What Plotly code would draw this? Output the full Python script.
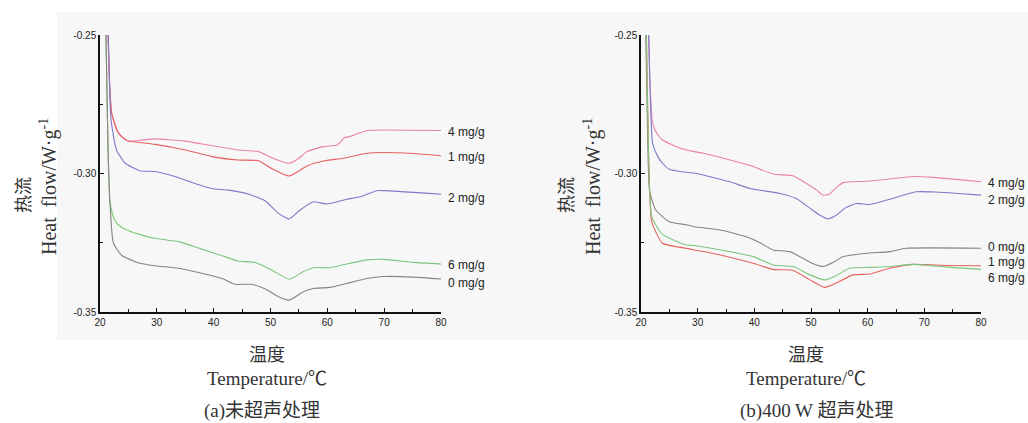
import plotly.graph_objects as go

# ---------------- data: panel (a) untreated ----------------
t_a_4 = [21.35, 21.7, 22.05, 23.0, 23.8, 25, 27, 29.7, 35, 39.7, 44.3, 47.9, 50.2, 53.3, 55, 56.4, 59.3, 61.7, 62.4, 62.9, 64, 65.5, 67, 70, 75, 80]
v_a_4 = [-0.245, -0.268, -0.2782, -0.2845, -0.2867, -0.2883, -0.2880, -0.2875, -0.2883, -0.2900, -0.2915, -0.2921, -0.2943, -0.2963, -0.2945, -0.2921, -0.2903, -0.2897, -0.2885, -0.2872, -0.2866, -0.2855, -0.2845, -0.2843, -0.2844, -0.2845]

t_a_1 = [21.35, 21.7, 22.05, 23.0, 23.8, 25, 27, 29.7, 35, 39.7, 44.3, 47.9, 50.2, 53.3, 56.4, 59.3, 62.8, 67, 70, 75, 80]
v_a_1 = [-0.245, -0.268, -0.2782, -0.2845, -0.2867, -0.2883, -0.2888, -0.2895, -0.2915, -0.2939, -0.2951, -0.2954, -0.2982, -0.3009, -0.2973, -0.2955, -0.2945, -0.2927, -0.2924, -0.2928, -0.2936]

t_a_2 = [21.4, 21.7, 21.94, 22.9, 24.4, 27, 29.7, 33.2, 36.7, 39.7, 42.6, 46.2, 49.1, 51.4, 53.3, 55.2, 57.5, 59.9, 63.4, 65.8, 68.7, 70, 80]
v_a_2 = [-0.245, -0.270, -0.2807, -0.2915, -0.2962, -0.2990, -0.2993, -0.3011, -0.3036, -0.3054, -0.3060, -0.3075, -0.3099, -0.3144, -0.3164, -0.3132, -0.3102, -0.3110, -0.3093, -0.3084, -0.3062, -0.3062, -0.3075]

t_a_6 = [21.0, 21.4, 21.76, 22.5, 23.2, 24.7, 26.7, 29.7, 33.8, 37.9, 41.5, 44.3, 47.3, 50.2, 53.3, 55.8, 57.5, 60.5, 64, 67, 69.9, 75.2, 80]
v_a_6 = [-0.245, -0.290, -0.3107, -0.3165, -0.3185, -0.3204, -0.3218, -0.3234, -0.3246, -0.3273, -0.3297, -0.3316, -0.3321, -0.3348, -0.3382, -0.3354, -0.3340, -0.3340, -0.3324, -0.3312, -0.3310, -0.3321, -0.3327]

t_a_0 = [21.0, 21.4, 21.76, 22.35, 23.8, 24.7, 26.7, 29.7, 33.8, 37.9, 41.5, 43.8, 46.7, 49.1, 51.4, 53.3, 55.8, 57.5, 60.5, 64, 67, 69.9, 75.2, 80]
v_a_0 = [-0.245, -0.290, -0.3107, -0.3251, -0.3295, -0.3305, -0.3322, -0.3333, -0.3342, -0.3360, -0.3379, -0.3400, -0.3400, -0.3417, -0.3445, -0.3457, -0.3427, -0.3415, -0.3411, -0.3394, -0.3379, -0.3372, -0.3374, -0.3381]

# ---------------- data: panel (b) 400 W ultrasound ----------------
t_b_4 = [21.3, 21.6, 22.05, 22.8, 23.8, 26.9, 29.4, 31, 35.7, 39.8, 43.3, 46.9, 49.2, 51, 52.1, 53.2, 54.5, 55.7, 59.8, 63.9, 68, 72, 76, 80]
v_b_4 = [-0.245, -0.268, -0.2819, -0.2855, -0.2879, -0.2909, -0.2921, -0.2927, -0.2951, -0.2975, -0.3002, -0.3009, -0.3036, -0.3060, -0.3078, -0.3075, -0.3050, -0.3033, -0.3028, -0.3020, -0.3011, -0.3015, -0.3022, -0.3030]

t_b_2 = [21.3, 21.6, 22.05, 23.0, 23.8, 25, 26.9, 29.8, 35.7, 39.2, 44.5, 47.4, 49.8, 51.5, 53, 54.5, 56, 58, 60.4, 63.9, 66, 68.6, 72, 76, 80]
v_b_2 = [-0.245, -0.270, -0.2891, -0.2940, -0.2963, -0.2985, -0.2993, -0.3000, -0.3030, -0.3054, -0.3072, -0.3090, -0.3125, -0.3150, -0.3164, -0.3150, -0.3125, -0.3108, -0.3112, -0.3093, -0.3080, -0.3066, -0.3067, -0.3072, -0.3078]

t_b_0 = [20.8, 21.2, 21.5, 22.6, 25, 28, 29.4, 34, 38.6, 41, 43.3, 46.3, 49.8, 52.1, 54, 55.7, 59.8, 63.9, 66.8, 80]
v_b_0 = [-0.245, -0.290, -0.3060, -0.3132, -0.3174, -0.3185, -0.3192, -0.3204, -0.3228, -0.3250, -0.3276, -0.3282, -0.3320, -0.3336, -0.3320, -0.3300, -0.3288, -0.3282, -0.3270, -0.3270]

t_b_1 = [20.9, 21.3, 21.9, 23.8, 28, 29.4, 34, 39.8, 43.3, 46.9, 49.8, 52.4, 54.5, 57.4, 60.4, 63.9, 68, 74, 80]
v_b_1 = [-0.245, -0.290, -0.3175, -0.3252, -0.3270, -0.3276, -0.3294, -0.3324, -0.3346, -0.3350, -0.3384, -0.3411, -0.3395, -0.3366, -0.3363, -0.3342, -0.3328, -0.3332, -0.3333]

t_b_6 = [20.9, 21.3, 21.9, 23.8, 28, 29.4, 34, 39.8, 43.3, 46.9, 49.8, 52.4, 54.5, 56.8, 60.4, 63.9, 68, 74, 80]
v_b_6 = [-0.245, -0.290, -0.3156, -0.3220, -0.3258, -0.3260, -0.3276, -0.3300, -0.3330, -0.3336, -0.3366, -0.3384, -0.3368, -0.3342, -0.3339, -0.3336, -0.3328, -0.3338, -0.3346]

labels_a = ["4 mg/g", "1 mg/g", "2 mg/g", "6 mg/g", "0 mg/g"]
label_y_a = [-0.2850, -0.2940, -0.3088, -0.3330, -0.3395]
labels_b = ["4 mg/g", "2 mg/g", "0 mg/g", "1 mg/g", "6 mg/g"]
label_y_b = [-0.3034, -0.3096, -0.3265, -0.3320, -0.3377]

x_ticks = [20, 30, 40, 50, 60, 70, 80]
y_ticks = [-0.25, -0.30, -0.35]
y_tick_text = ["-0.25", "-0.30", "-0.35"]

# ---------------- styling ----------------
C_PINK = "#ea7fb0"
C_RED = "#e8625e"
C_BLUE = "#7b7bc9"
C_GREEN = "#7cc57c"
C_GREY = "#8a8282"

W, H = 1028, 423
fig = go.Figure()

series_a = [(t_a_4, v_a_4, C_PINK), (t_a_1, v_a_1, C_RED), (t_a_2, v_a_2, C_BLUE),
            (t_a_6, v_a_6, C_GREEN), (t_a_0, v_a_0, C_GREY)]
series_b = [(t_b_4, v_b_4, C_PINK), (t_b_2, v_b_2, C_BLUE), (t_b_0, v_b_0, C_GREY),
            (t_b_1, v_b_1, C_RED), (t_b_6, v_b_6, C_GREEN)]

for t, v, c in series_a:
    fig.add_trace(go.Scatter(x=t, y=v, mode="lines", line=dict(color=c, width=1.1, shape="spline", smoothing=0.5),
                             xaxis="x", yaxis="y", showlegend=False, hoverinfo="skip", cliponaxis=True))
for t, v, c in series_b:
    fig.add_trace(go.Scatter(x=t, y=v, mode="lines", line=dict(color=c, width=1.1, shape="spline", smoothing=0.5),
                             xaxis="x2", yaxis="y2", showlegend=False, hoverinfo="skip", cliponaxis=True))

def px_x(p):
    return p / W

def px_y(p):
    return 1 - p / H

axis_common = dict(showgrid=False, zeroline=False, showline=True, linecolor="#111", linewidth=1.5,
                   ticks="inside", ticklen=4, tickwidth=1, tickcolor="#111",
                   tickfont=dict(family="Liberation Sans, Arial", size=10, color="#222"),
                   fixedrange=True, automargin=False)

xa = dict(axis_common, range=[20, 80], tickvals=x_ticks,
          minor=dict(ticks="inside", ticklen=3, tickwidth=1, tickcolor="#111", dtick=5, tick0=20))
ya = dict(axis_common, range=[-0.35, -0.25], tickvals=y_ticks, ticktext=y_tick_text,
          minor=dict(ticks="inside", ticklen=3, tickwidth=1, tickcolor="#111", dtick=0.025, tick0=-0.35))

fig.update_layout(
    width=W, height=H, autosize=False,
    margin=dict(l=0, r=0, t=0, b=0, pad=0, autoexpand=False),
    paper_bgcolor="white",
    plot_bgcolor="rgba(0,0,0,0)",
    xaxis=dict(xa, domain=[px_x(100), px_x(441)], anchor="y"),
    yaxis=dict(ya, domain=[px_y(312), px_y(35)], anchor="x"),
    xaxis2=dict(xa, domain=[px_x(641), px_x(981)], anchor="y2"),
    yaxis2=dict(ya, domain=[px_y(312), px_y(35)], anchor="x2"),
)

# light grey panel background
fig.add_shape(type="rect", xref="paper", yref="paper", x0=px_x(57), x1=1.0, y0=px_y(340), y1=px_y(12),
              fillcolor="#f7f7f7", line=dict(width=0), layer="below")

# curve labels
lab_font = dict(family="Liberation Sans, Arial", size=12, color="#222")
for txt, yv in zip(labels_a, label_y_a):
    fig.add_annotation(x=80, y=yv, xref="x", yref="y", text=txt, showarrow=False, xanchor="left",
                       yanchor="middle", xshift=5, font=lab_font)
for txt, yv in zip(labels_b, label_y_b):
    fig.add_annotation(x=80, y=yv, xref="x2", yref="y2", text=txt, showarrow=False, xanchor="left",
                       yanchor="middle", xshift=5, font=lab_font)

serif = "Liberation Serif, Times New Roman, Noto Sans CJK SC"
cjk = "Noto Sans CJK SC"
txt_col = "#333"

def paper_text(cx, cy, text, font, angle=0):
    fig.add_annotation(xref="paper", yref="paper", x=px_x(cx), y=px_y(cy), text=text, textangle=angle,
                       showarrow=False, xanchor="center", yanchor="middle", font=font)

# y axis titles (rotated)
for cx_cjk, cx_lat in [(22, 48), (565, 592)]:
    paper_text(cx_cjk, 195, "热流", dict(family=cjk, size=18, color=txt_col), -90)
    paper_text(cx_lat, 187, "Heat  flow/W·g<sup>-1</sup>", dict(family=serif, size=20, color=txt_col), -90)

# x axis titles and captions
for cx, cap, capx in [(267, "(a)未超声处理", 262), (806, "(b)400 W 超声处理", 816)]:
    paper_text(cx, 353, "温度", dict(family=cjk, size=18, color=txt_col))
    paper_text(cx, 378, "Temperature/℃", dict(family=serif, size=19, color=txt_col))
    paper_text(capx, 411, cap, dict(family=serif, size=19, color=txt_col))

fig.write_html("out.html",
               config={"displayModeBar": False},
               post_script="document.body.style.margin='0';document.body.style.padding='0';"
                           "document.body.style.overflow='hidden';"
                           "document.documentElement.style.overflow='hidden';")
